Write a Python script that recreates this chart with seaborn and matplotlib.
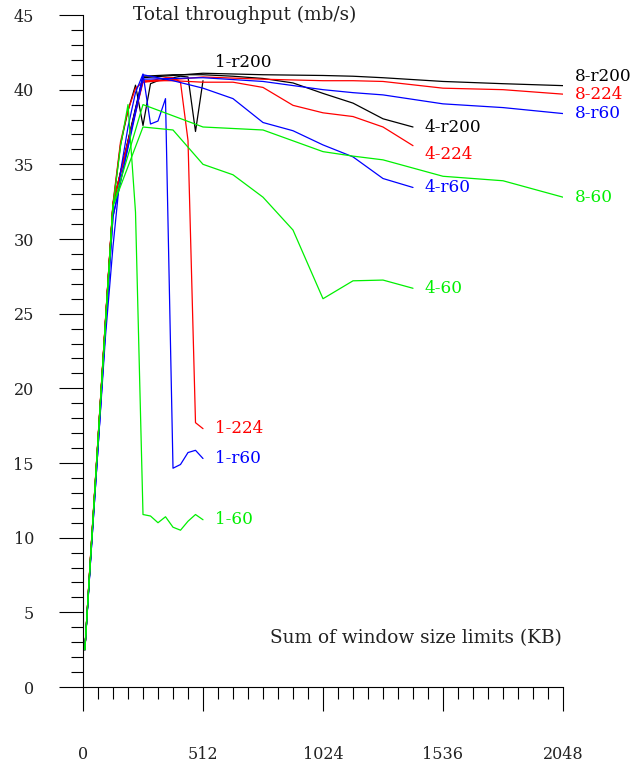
import matplotlib
matplotlib.use("Agg")
import matplotlib.pyplot as plt
import seaborn as sns
import pandas as pd
from matplotlib.ticker import MultipleLocator, FixedLocator

# ---------------- data ----------------
x1 = [8, 32, 64, 96, 128, 160, 192, 224, 256, 288, 320, 352, 384, 416, 448, 480, 512]
y1_60 = [2.5, 8.6, 16.5, 24.4, 32.2, 36.2, 39.0, 31.8, 11.55, 11.45, 11.0, 11.4, 10.7, 10.5, 11.1, 11.55, 11.2]
y1_r60 = [2.5, 8.4, 16.0, 23.5, 29.5, 34.5, 37.5, 39.8, 41.05, 37.7, 37.9, 39.4, 14.65, 14.9, 15.7, 15.85, 15.3]
y1_224 = [2.5, 8.7, 16.6, 24.6, 32.4, 36.5, 38.6, 40.1, 40.5, 40.6, 40.7, 40.8, 40.8, 40.5, 36.6, 17.7, 17.3]
y1_r200 = [2.5, 8.6, 16.5, 24.5, 32.3, 36.3, 38.6, 40.3, 37.6, 40.4, 40.6, 40.7, 40.8, 40.9, 40.85, 37.2, 40.6]

x4 = [8, 32, 64, 96, 128, 256, 384, 512, 640, 768, 896, 1024, 1152, 1280, 1408]
y4_60 = [2.5, 8.6, 16.5, 24.4, 32.2, 37.5, 37.3, 35.0, 34.3, 32.8, 30.6, 26.0, 27.2, 27.25, 26.7]
y4_r60 = [2.5, 8.4, 16.0, 24.0, 31.5, 41.0, 40.6, 40.1, 39.4, 37.8, 37.25, 36.3, 35.5, 34.05, 33.45]
y4_224 = [2.5, 8.7, 16.6, 24.6, 32.4, 40.6, 40.6, 40.5, 40.5, 40.15, 38.95, 38.45, 38.2, 37.5, 36.25]
y4_r200 = [2.5, 8.6, 16.5, 24.5, 32.3, 40.9, 41.0, 41.0, 40.9, 40.75, 40.45, 39.75, 39.1, 38.05, 37.5]

x8 = [8, 32, 64, 96, 128, 256, 512, 768, 1024, 1152, 1280, 1536, 1792, 2048]
y8_60 = [2.5, 8.6, 16.5, 24.4, 32.2, 39.0, 37.5, 37.3, 35.85, 35.55, 35.3, 34.2, 33.9, 32.8]
y8_r60 = [2.5, 8.4, 16.0, 24.0, 31.5, 40.7, 40.8, 40.55, 40.0, 39.8, 39.65, 39.05, 38.8, 38.4]
y8_224 = [2.5, 8.7, 16.6, 24.6, 32.4, 40.5, 40.85, 40.7, 40.6, 40.6, 40.55, 40.1, 40.0, 39.7]
y8_r200 = [2.5, 8.6, 16.5, 24.5, 32.3, 40.8, 41.1, 41.0, 40.95, 40.9, 40.8, 40.55, 40.4, 40.27]

series_names = ["1-r200", "4-r200", "8-r200", "1-224", "4-224", "8-224",
                "1-r60", "4-r60", "8-r60", "1-60", "4-60", "8-60"]
series_x = [x1, x4, x8, x1, x4, x8, x1, x4, x8, x1, x4, x8]
series_y = [y1_r200, y4_r200, y8_r200, y1_224, y4_224, y8_224,
            y1_r60, y4_r60, y8_r60, y1_60, y4_60, y8_60]

xticks = [0, 512, 1024, 1536, 2048]
yticks = [0, 5, 10, 15, 20, 25, 30, 35, 40, 45]
title = "Total throughput (mb/s)"
xlabel = "Sum of window size limits (KB)"

# ---------------- style ----------------
colors = {"r200": "#000000", "224": "#ff0000", "r60": "#0000ff", "60": "#00f000"}
label_dy = {"1-r200": 13.0, "8-r200": 6.5, "4-224": -6.5}

sns.set_theme(style="white")
plt.rcParams['font.family'] = ['DejaVu Serif']

rows = []
for name, xs, ys in zip(series_names, series_x, series_y):
    for xv, yv in zip(xs, ys):
        rows.append({"series": name, "x": xv, "y": yv})
df = pd.DataFrame(rows)
palette = {n: colors[n.split("-", 1)[1]] for n in series_names}

fig = plt.figure(figsize=(6.41, 7.66), dpi=100)
ax = fig.add_axes([83 / 641, 79 / 766, 480 / 641, 672 / 766])

sns.lineplot(data=df, x="x", y="y", hue="series", hue_order=series_names,
             palette=palette, units="series", estimator=None, sort=False,
             legend=False, linewidth=0.9, ax=ax)

ax.set_xlim(0, 2048)
ax.set_ylim(0, 45)
ax.xaxis.set_major_locator(FixedLocator(xticks))
ax.xaxis.set_minor_locator(MultipleLocator(64))
ax.yaxis.set_major_locator(FixedLocator(yticks))
ax.yaxis.set_minor_locator(MultipleLocator(1))
ax.set_xticklabels([str(t) for t in xticks])
ax.set_yticklabels([str(t) for t in yticks])
ax.set_xlabel("")
ax.set_ylabel("")

for s in ["top", "right"]:
    ax.spines[s].set_visible(False)
for s in ["left", "bottom"]:
    ax.spines[s].set_color("black")
    ax.spines[s].set_linewidth(0.8)

ax.tick_params(axis="both", which="major", length=17.3, width=0.8, color="black",
               direction="out", labelsize=11.5, labelcolor="#222222")
ax.tick_params(axis="both", which="minor", length=8.3, width=0.8, color="black",
               direction="out")
ax.tick_params(axis="x", which="major", pad=25)
ax.tick_params(axis="y", which="major", pad=18)
ax.tick_params(axis="both", which="both", left=True, bottom=True)

ax.text(213, 45, title, ha="left", va="center", fontsize=13.3, color="#222222", clip_on=False)
ax.text(2044, 3.3, xlabel, ha="right", va="center", fontsize=13.3, color="#222222")

for name, xs, ys in zip(series_names, series_x, series_y):
    ax.annotate(name, xy=(xs[-1], ys[-1]), xytext=(8.6, label_dy.get(name, 0.0)),
                textcoords="offset points", ha="left", va="center",
                fontsize=12.2, color=palette[name], annotation_clip=False)

fig.savefig("out.png", dpi=100)
